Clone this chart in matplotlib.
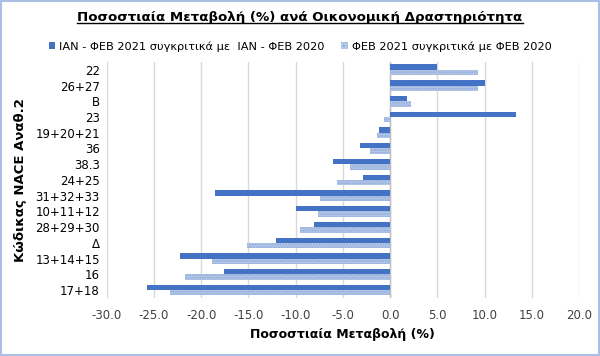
import numpy as np
import matplotlib
matplotlib.use("Agg")
import matplotlib.pyplot as plt
from matplotlib.lines import Line2D
from matplotlib.patches import Rectangle, Patch

# categories listed top to bottom as in the chart
categories = ["22", "26+27", "B", "23", "19+20+21", "36", "38.3", "24+25",
              "31+32+33", "10+11+12", "28+29+30", "Δ", "13+14+15", "16", "17+18"]
jan_feb = [5.0, 10.0, 1.8, 13.3, -1.2, -3.2, -6.0, -2.9,
           -18.5, -10.0, -8.1, -12.1, -22.3, -17.6, -25.7]
feb = [9.3, 9.3, 2.2, -0.6, -1.4, -2.1, -4.3, -5.6,
       -7.4, -7.6, -9.5, -15.2, -18.9, -21.7, -23.3]
label_jf = "ΙΑΝ - ΦΕΒ 2021 συγκριτικά με  ΙΑΝ - ΦΕΒ 2020"
label_f = "ΦΕΒ 2021 συγκριτικά με ΦΕΒ 2020"
xticks = np.arange(-30, 25, 5)

dark = "#4472c4"
light = "#b4c7e7"

fig = plt.figure(figsize=(6, 3.56), dpi=100)
ax = fig.add_axes([0.178, 0.163, 0.787, 0.663])

n = len(categories)
y = np.arange(n)
h = 0.34
ax.barh(y - h / 2, jan_feb, height=h, color=dark, zorder=3)
ax.barh(y + h / 2, feb, height=h, color=light, edgecolor="#8eaadb",
        hatch="......", linewidth=0, zorder=3)

ax.set_ylim(n - 0.5, -0.5)
ax.set_yticks(y)
ax.set_yticklabels(categories, fontsize=8.5)
ax.set_xlim(-30, 20)
ax.set_xticks(xticks)
ax.set_xticklabels([f"{v:.1f}" for v in xticks], fontsize=8.5, color="#404040")
ax.tick_params(axis="both", length=0, pad=8)
ax.tick_params(axis="y", pad=5)
ax.grid(axis="x", color="#d9d9d9", linewidth=1, zorder=0)
ax.axvline(0, color="#bfbfbf", linewidth=1, zorder=2)
for s in ax.spines.values():
    s.set_visible(False)

ax.set_xlabel("Ποσοστιαία Μεταβολή (%)", fontsize=9, fontweight="bold", labelpad=4)
ax.set_ylabel("Κώδικας NACE Αναθ.2", fontsize=9.5, fontweight="bold", labelpad=6)

title = fig.text(0.5, 0.952, "Ποσοστιαία Μεταβολή (%) ανά Οικονομική Δραστηριότητα",
                 ha="center", va="center", fontsize=9.6, fontweight="bold")

handles = [Patch(facecolor=dark, label=label_jf),
           Patch(facecolor=light, edgecolor="#8eaadb", hatch="....", linewidth=0, label=label_f)]
fig.legend(handles=handles, loc="center", bbox_to_anchor=(0.5, 0.87), ncol=2,
           frameon=False, fontsize=8.2, handlelength=0.6, handleheight=0.6,
           handletextpad=0.3, columnspacing=1.5)

# underline the title
fig.canvas.draw()
bb = title.get_window_extent().transformed(fig.transFigure.inverted())
fig.add_artist(Line2D([bb.x0, bb.x1], [bb.y0 + 0.002, bb.y0 + 0.002],
                      transform=fig.transFigure, color="black", linewidth=1))

# chart border
fig.add_artist(Rectangle((0.002, 0.003), 0.996, 0.994, transform=fig.transFigure,
                         fill=False, edgecolor="#a9bfe3", linewidth=1.5))

fig.savefig("out.png", dpi=100)
